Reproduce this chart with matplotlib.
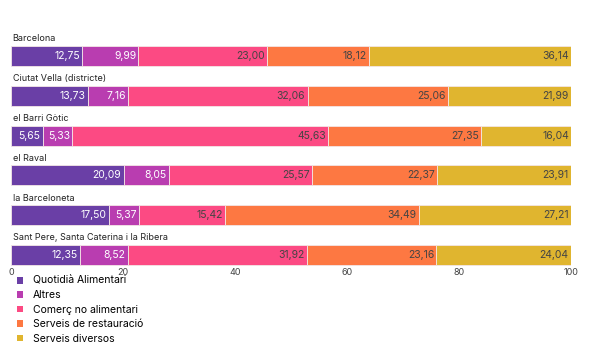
import numpy as np
import matplotlib.pyplot as plt
from matplotlib.patches import Patch

plt.rcParams['font.family'] = ['Inter', 'DejaVu Sans']

areas = ['Barcelona', 'Ciutat Vella (districte)', 'el Barri Gòtic', 'el Raval',
         'la Barceloneta', 'Sant Pere, Santa Caterina i la Ribera']
series = ['Quotidià Alimentari', 'Altres', 'Comerç no alimentari',
          'Serveis de restauració', 'Serveis diversos']
quotidia = [12.75, 13.73, 5.65, 20.09, 17.50, 12.35]
altres = [9.99, 7.16, 5.33, 8.05, 5.37, 8.52]
comerc = [23.00, 32.06, 45.63, 25.57, 15.42, 31.92]
restauracio = [18.12, 25.06, 27.35, 22.37, 34.49, 23.16]
diversos = [36.14, 21.99, 16.04, 23.91, 27.21, 24.04]
ticks = [0, 20, 40, 60, 80, 100]

colors = ['#6a3fa6', '#b93db0', '#fc4a83', '#fd7842', '#e0b52f']
text_colors = ['white', 'white', '#444444', '#444444', '#444444']

fig = plt.figure(figsize=(6, 3.52), dpi=100)
ax = fig.add_axes([11 / 600, 1 - 267 / 352, 560 / 600, 237 / 352])

y = np.arange(len(areas))
left = np.zeros(len(areas))
for vals, col, tcol in zip([quotidia, altres, comerc, restauracio, diversos],
                           colors, text_colors):
    vals = np.array(vals)
    ax.barh(y, vals, left=left, height=0.5, color=col,
            edgecolor='#f3e6e6', linewidth=0.6)
    for yi, l, v in zip(y, left, vals):
        ax.text(l + v - 0.4, yi, f'{v:.2f}'.replace('.', ','),
                ha='right', va='center', fontsize=7.5, color=tcol)
    left += vals

for yi, name in zip(y, areas):
    ax.text(0.3, yi - 0.43, name, ha='left', va='center', fontsize=6.5,
            color='#222222')

ax.set_xlim(0, 100)
ax.set_ylim(5.3, -0.65)
ax.set_xticks(ticks)
ax.set_xticklabels([str(t) for t in ticks], fontsize=6.5, color='#444444')
ax.tick_params(axis='x', length=0, pad=1)
ax.set_yticks([])
for s in ax.spines.values():
    s.set_visible(False)

handles = [Patch(facecolor=c, edgecolor='none') for c in colors]
fig.legend(handles, series, loc='upper left', bbox_to_anchor=(17 / 600, 1 - 276 / 352),
           frameon=False, fontsize=7.5, handlelength=0.6, handleheight=0.6,
           handletextpad=0.9, labelspacing=0.42, borderaxespad=0, borderpad=0)

fig.savefig('out.png', dpi=100)
